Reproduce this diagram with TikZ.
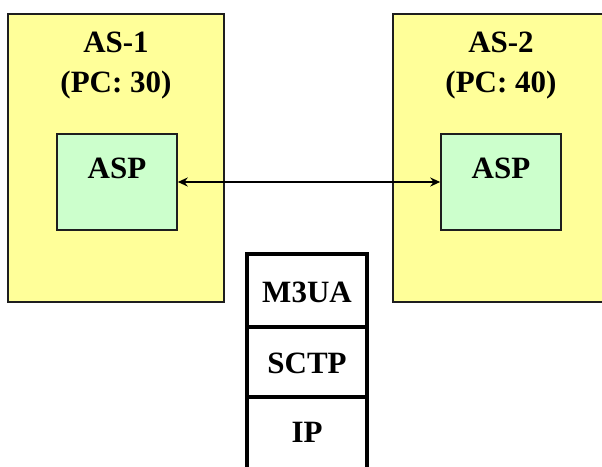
\documentclass[tikz,border=0pt]{standalone}
\usepackage{fontspec}
\setmainfont{Liberation Serif}
\usetikzlibrary{arrows.meta, positioning}
\definecolor{asyellow}{RGB}{255, 255, 153}
\definecolor{aspgreen}{RGB}{204, 255, 204}
\definecolor{edgegray}{RGB}{30, 30, 30}

\begin{document}
\begin{tikzpicture}[x=1pt, y=-1pt, >={Stealth[length=10pt, width=9pt]},
    every node/.style={font=\fontsize{31}{40}\selectfont\bfseries, inner sep=0pt},
    asbox/.style={draw=edgegray, line width=1.5pt, fill=asyellow, minimum width=216pt, minimum height=288pt},
    aspbox/.style={draw=edgegray, line width=1.5pt, fill=aspgreen, minimum width=120pt, minimum height=96pt},
    layer/.style={line width=4pt, black}]
    \useasboundingbox (0,0) rectangle (602,466);
    \clip (0,0) rectangle (602,466);

    \node[asbox] (as1) at (116,158) {};
    \node[asbox] (as2) at (501,158) {};
    \node[align=center] (as1lbl) at (116,66) {AS-1\\(PC: 30)};
    \node[align=center] (as2lbl) at (501,66) {AS-2\\(PC: 40)};

    \node[aspbox] (asp1) at (117,182) {};
    \node[aspbox] (asp2) at (501,182) {};
    \node (asp1lbl) at (117,168) {ASP};
    \node (asp2lbl) at (501,168) {ASP};

    \draw[<->, line width=2pt] (asp1.east) -- (asp2.west);

    % protocol stack
    \node (m3ua) at (307,292) {M3UA};
    \node (sctp) at (307,363) {SCTP};
    \node (ip) at (307,432) {IP};
    \coordinate (stl) at (247,254);
    \coordinate (str) at (367,254);
    \draw[layer] (247,470) -- (stl) -- (str) -- (367,470);
    \draw[layer] (247,327) -- (367,327);
    \draw[layer] (247,397) -- (367,397);
\end{tikzpicture}
\end{document}
